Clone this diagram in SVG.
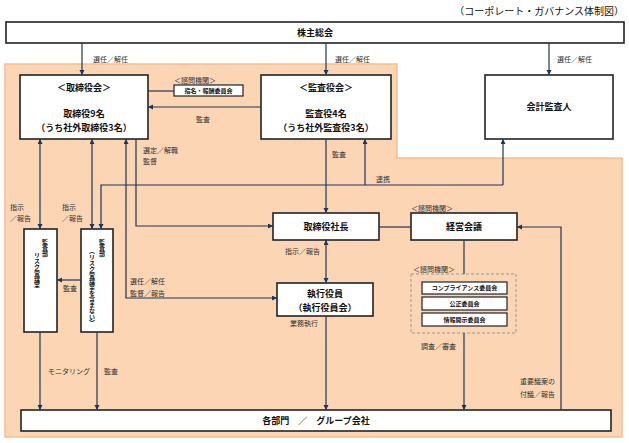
<svg xmlns="http://www.w3.org/2000/svg" width="629" height="443" viewBox="0 0 629 443">
<defs>
<marker id="ah" markerUnits="userSpaceOnUse" markerWidth="6" markerHeight="6" refX="5" refY="2.5" orient="auto-start-reverse">
<path d="M0,0 L5,2.5 L0,5 z" fill="#1f3556"/>
</marker>
<style>
.bx{fill:#fff;stroke:#222;stroke-width:1.6}
.sb{fill:#fff;stroke:#222;stroke-width:1.2}
.t{font-family:"Noto Sans CJK JP","Noto Sans CJK SC",sans-serif;fill:#111}
.b{font-weight:700;font-size:9px;text-anchor:middle}
.s{font-weight:700;font-size:6px;text-anchor:middle}
.l{font-size:7px;fill:#333}
.c path{fill:none;stroke:#1f3556;stroke-width:1.2}
.v{font-weight:700;font-size:6px}
</style>
</defs>
<rect width="629" height="443" fill="#fff"/>
<polygon points="5,64 397,64 397,158 622,158 622,437 5,437" fill="#fcd5b4" stroke="#f9bf93" stroke-width="1.5"/>
<text class="t" x="624" y="15" font-size="10" text-anchor="end">（コーポレート・ガバナンス体制図）</text>

<g id="shareholders"><rect class="bx" x="6" y="22" width="618" height="21"/><text class="t b" x="315" y="36">株主総会</text></g>
<g id="board"><rect class="bx" x="20" y="75" width="128" height="64"/>
<text class="t b" x="84" y="91">＜取締役会＞</text><text class="t b" x="84" y="117">取締役9名</text><text class="t b" x="84" y="131">（うち社外取締役3名）</text></g>
<g id="auditboard"><rect class="bx" x="261" y="75" width="130" height="64"/>
<text class="t b" x="326" y="91">＜監査役会＞</text><text class="t b" x="326" y="117">監査役4名</text><text class="t b" x="326" y="131">（うち社外監査役3名）</text></g>
<g id="accountant"><rect class="bx" x="485" y="75" width="128" height="64"/><text class="t b" x="549" y="110">会計監査人</text></g>
<g id="nomination"><text class="t l" x="174" y="83">＜諮問機関＞</text><rect class="sb" x="174" y="85" width="69" height="11"/><text class="t s" x="208.5" y="92.8">指名・報酬委員会</text></g>
<g id="risk"><rect class="bx" x="24" y="229" width="33" height="103"/>
<text class="t v" writing-mode="vertical-rl" x="45" y="239">監査部</text><text class="t v" writing-mode="vertical-rl" font-size="6.5" x="37" y="252">リスク管理室</text></g>
<g id="audit"><rect class="bx" x="81" y="229" width="32" height="103"/>
<text class="t v" writing-mode="vertical-rl" x="102" y="239">監査部</text><text class="t v" writing-mode="vertical-rl" x="92" y="248">（リスク管理室を含まない）</text></g>
<g id="president"><rect class="bx" x="273" y="213" width="106" height="27"/><text class="t b" x="326" y="230">取締役社長</text></g>
<g id="mgmt"><text class="t l" x="411" y="211">＜諮問機関＞</text><rect class="bx" x="411" y="213" width="106" height="27"/><text class="t b" x="464" y="230">経営会議</text></g>
<g id="officers"><rect class="bx" x="277" y="283" width="96" height="33"/><text class="t b" x="325" y="297">執行役員</text><text class="t b" x="325" y="311">（執行役員会）</text></g>
<g id="committees"><text class="t l" x="413" y="272">＜諮問機関＞</text><rect x="411" y="274" width="105" height="59" fill="none" stroke="#999" stroke-width="1" stroke-dasharray="3,2"/>
<rect class="sb" x="422" y="282" width="85" height="12"/><text class="t s" x="464.5" y="290.3">コンプライアンス委員会</text>
<rect class="sb" x="422" y="297" width="85" height="13"/><text class="t s" x="464.5" y="305.8">公正委員会</text>
<rect class="sb" x="422" y="313" width="85" height="13"/><text class="t s" x="464.5" y="321.8">情報開示委員会</text></g>
<g id="departments"><rect class="bx" x="21" y="410" width="590" height="21"/><text class="t b" x="316" y="424">各部門　／　グループ会社</text></g>

<g id="connectors" class="c">
<path d="M82,43V75" marker-end="url(#ah)"/>
<path d="M326,43V75" marker-end="url(#ah)"/>
<path d="M549,43V75" marker-end="url(#ah)"/>
<path d="M148,91H174"/>
<path d="M261,107H148" marker-end="url(#ah)"/>
<path d="M40,139V229" marker-start="url(#ah)" marker-end="url(#ah)"/>
<path d="M92,139V229" marker-start="url(#ah)" marker-end="url(#ah)"/>
<path d="M126,139V298H277" marker-start="url(#ah)" marker-end="url(#ah)"/>
<path d="M136,139V226H273" marker-end="url(#ah)"/>
<path d="M503,185H101V229" marker-end="url(#ah)"/>
<path d="M503,185V139" marker-end="url(#ah)"/>
<path d="M365,185V139" marker-end="url(#ah)"/>
<path d="M326,139V213" marker-end="url(#ah)"/>
<path d="M81,280H57" marker-end="url(#ah)"/>
<path d="M379,227H411"/>
<path d="M326,240V283" marker-start="url(#ah)" marker-end="url(#ah)"/>
<path d="M326,316V410" marker-end="url(#ah)"/>
<path d="M464,240V274"/>
<path d="M464,333V410" marker-end="url(#ah)"/>
<path d="M561,410V227H517" marker-end="url(#ah)"/>
<path d="M40,332V410" marker-end="url(#ah)"/>
<path d="M97,332V410" marker-end="url(#ah)"/>
</g>

<g id="labels" class="t l">
<text x="93" y="62">選任／解任</text>
<text x="335" y="62">選任／解任</text>
<text x="557" y="62">選任／解任</text>
<text x="196" y="122">監査</text>
<text x="143" y="153">選定／解職</text>
<text x="143" y="164">監督</text>
<text x="332" y="157">監査</text>
<text x="376" y="182">連携</text>
<text x="10" y="210">指示</text>
<text x="10" y="221">／報告</text>
<text x="62" y="210">指示</text>
<text x="62" y="221">／報告</text>
<text x="63" y="291">監査</text>
<text x="130" y="284">選任／解任</text>
<text x="130" y="296">監督／報告</text>
<text x="285" y="254">指示／報告</text>
<text x="290" y="326">業務執行</text>
<text x="421" y="349">調査／審査</text>
<text x="48" y="374">モニタリング</text>
<text x="104" y="374">監査</text>
<text x="520" y="384">重要議案の</text>
<text x="520" y="397">付議／報告</text>
</g>
</svg>
